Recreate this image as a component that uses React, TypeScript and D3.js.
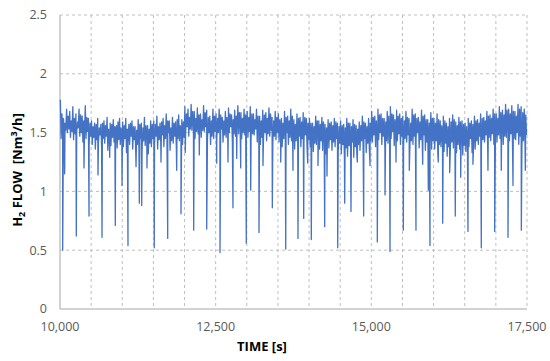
import React from 'react';
import * as d3 from 'd3';

// time axis (s) and flow axis (Nm3/h)
const xTicks = [10000, 12500, 15000, 17500];
const yTicks = [0, 0.5, 1, 1.5, 2, 2.5];
const binStart = 10000;
const binSize = 50;

// per-50 s bin, first half: upper and lower edge of the noisy band
const bandHigh = [
  1.78, 1.62, 1.7, 1.68, 1.72, 1.66, 1.7, 1.64, 1.73, 1.62,
  1.6, 1.58, 1.62, 1.57, 1.6, 1.63, 1.58, 1.61, 1.56, 1.62,
  1.59, 1.62, 1.57, 1.6, 1.55, 1.61, 1.58, 1.63, 1.56, 1.6,
  1.6, 1.64, 1.58, 1.62, 1.66, 1.6, 1.63, 1.59, 1.65, 1.61,
  1.72, 1.7, 1.74, 1.68, 1.71, 1.66, 1.73, 1.69, 1.64, 1.7,
  1.66, 1.7, 1.63, 1.68, 1.71, 1.65, 1.69, 1.73, 1.67, 1.7,
  1.68, 1.72, 1.66, 1.7, 1.64, 1.69, 1.67, 1.71, 1.63, 1.68,
  1.66, 1.62, 1.68, 1.64, 1.7, 1.61, 1.66, 1.63, 1.67, 1.62,
  1.62, 1.58, 1.64, 1.6, 1.63, 1.57, 1.61, 1.59, 1.62, 1.58,
  1.6, 1.57, 1.62, 1.58, 1.61, 1.56, 1.59, 1.64, 1.58, 1.62,
  1.68, 1.64, 1.7, 1.66, 1.62, 1.68, 1.72, 1.65, 1.69, 1.66,
  1.64, 1.68, 1.62, 1.7, 1.66, 1.63, 1.69, 1.65, 1.61, 1.67,
  1.62, 1.66, 1.6, 1.64, 1.58, 1.62, 1.65, 1.59, 1.63, 1.6,
  1.58, 1.62, 1.6, 1.64, 1.61, 1.66, 1.63, 1.68, 1.65, 1.7,
  1.66, 1.72, 1.69, 1.74, 1.7, 1.73, 1.68, 1.74, 1.72, 1.7,
];
const bandLow = [
  1.45, 1.48, 1.5, 1.46, 1.44, 1.5, 1.47, 1.42, 1.45, 1.4,
  1.4, 1.36, 1.42, 1.38, 1.41, 1.35, 1.39, 1.42, 1.37, 1.4,
  1.38, 1.33, 1.4, 1.36, 1.3, 1.37, 1.34, 1.39, 1.32, 1.38,
  1.4, 1.36, 1.42, 1.38, 1.44, 1.35, 1.41, 1.38, 1.43, 1.4,
  1.5, 1.47, 1.52, 1.45, 1.49, 1.46, 1.51, 1.44, 1.4, 1.45,
  1.44, 1.48, 1.42, 1.46, 1.5, 1.43, 1.47, 1.49, 1.45, 1.48,
  1.46, 1.43, 1.48, 1.42, 1.4, 1.45, 1.43, 1.47, 1.41, 1.44,
  1.42, 1.38, 1.44, 1.4, 1.43, 1.36, 1.41, 1.38, 1.42, 1.37,
  1.38, 1.34, 1.4, 1.36, 1.35, 1.32, 1.37, 1.35, 1.38, 1.33,
  1.32, 1.28, 1.3, 1.34, 1.29, 1.31, 1.35, 1.38, 1.33, 1.36,
  1.42, 1.38, 1.44, 1.4, 1.36, 1.41, 1.45, 1.39, 1.43, 1.4,
  1.38, 1.42, 1.36, 1.4, 1.44, 1.37, 1.41, 1.35, 1.39, 1.36,
  1.36, 1.32, 1.38, 1.34, 1.3, 1.35, 1.37, 1.33, 1.36, 1.31,
  1.34, 1.38, 1.33, 1.36, 1.4, 1.37, 1.42, 1.39, 1.43, 1.4,
  1.42, 1.45, 1.4, 1.46, 1.43, 1.38, 1.44, 1.4, 1.36, 1.42,
];
// second half of each bin: smaller swing inside the band
const midHigh = [
  1.66, 1.58, 1.64, 1.6, 1.62, 1.59, 1.65, 1.6, 1.63, 1.58,
  1.55, 1.57, 1.54, 1.58, 1.56, 1.53, 1.57, 1.55, 1.59, 1.54,
  1.56, 1.53, 1.58, 1.55, 1.52, 1.57, 1.54, 1.56, 1.53, 1.57,
  1.57, 1.55, 1.59, 1.56, 1.6, 1.54, 1.58, 1.61, 1.56, 1.59,
  1.66, 1.63, 1.68, 1.62, 1.65, 1.61, 1.67, 1.63, 1.6, 1.64,
  1.62, 1.65, 1.6, 1.63, 1.66, 1.61, 1.64, 1.67, 1.62, 1.65,
  1.63, 1.66, 1.61, 1.64, 1.6, 1.65, 1.62, 1.66, 1.6, 1.63,
  1.61, 1.58, 1.63, 1.6, 1.64, 1.57, 1.62, 1.59, 1.63, 1.58,
  1.58, 1.55, 1.6, 1.57, 1.59, 1.54, 1.58, 1.56, 1.59, 1.55,
  1.56, 1.54, 1.58, 1.55, 1.57, 1.53, 1.56, 1.59, 1.55, 1.58,
  1.63, 1.6, 1.65, 1.62, 1.59, 1.64, 1.66, 1.61, 1.64, 1.62,
  1.6, 1.63, 1.58, 1.65, 1.62, 1.59, 1.64, 1.61, 1.58, 1.62,
  1.58, 1.61, 1.56, 1.6, 1.55, 1.59, 1.61, 1.56, 1.59, 1.57,
  1.55, 1.58, 1.57, 1.6, 1.58, 1.62, 1.6, 1.64, 1.62, 1.66,
  1.62, 1.67, 1.65, 1.69, 1.66, 1.68, 1.64, 1.7, 1.67, 1.65,
];
const midLow = [
  1.5, 1.52, 1.53, 1.51, 1.49, 1.54, 1.5, 1.48, 1.51, 1.47,
  1.46, 1.44, 1.48, 1.45, 1.47, 1.43, 1.46, 1.48, 1.44, 1.46,
  1.45, 1.42, 1.47, 1.44, 1.4, 1.45, 1.43, 1.46, 1.41, 1.45,
  1.47, 1.44, 1.48, 1.45, 1.5, 1.43, 1.47, 1.45, 1.49, 1.46,
  1.55, 1.53, 1.56, 1.51, 1.54, 1.52, 1.55, 1.5, 1.47, 1.51,
  1.5, 1.53, 1.48, 1.52, 1.55, 1.49, 1.52, 1.54, 1.5, 1.53,
  1.51, 1.49, 1.53, 1.48, 1.46, 1.5, 1.49, 1.52, 1.47, 1.5,
  1.48, 1.45, 1.5, 1.46, 1.49, 1.43, 1.47, 1.45, 1.48, 1.44,
  1.45, 1.41, 1.46, 1.43, 1.42, 1.4, 1.44, 1.42, 1.45, 1.41,
  1.4, 1.37, 1.39, 1.42, 1.38, 1.4, 1.43, 1.45, 1.41, 1.43,
  1.48, 1.45, 1.5, 1.47, 1.43, 1.48, 1.51, 1.46, 1.49, 1.47,
  1.45, 1.48, 1.43, 1.47, 1.5, 1.44, 1.48, 1.42, 1.46, 1.43,
  1.43, 1.4, 1.45, 1.41, 1.38, 1.42, 1.44, 1.4, 1.43, 1.39,
  1.41, 1.45, 1.4, 1.43, 1.47, 1.44, 1.48, 1.46, 1.49, 1.47,
  1.48, 1.51, 1.47, 1.52, 1.49, 1.45, 1.5, 1.47, 1.43, 1.48,
];

// downward spikes: time (s) and lowest flow
const dipTime = [
  10043, 10075, 10262, 10385, 10466, 10610, 10675, 10798, 10888, 10996,
  11092, 11221, 11274, 11312, 11397, 11514, 11622, 11730, 11874, 11943,
  12012, 12147, 12237, 12356, 12517, 12570, 12698, 12778, 12838, 12902,
  12992, 13063, 13196, 13260, 13410, 13545, 13625, 13742, 13822, 13914,
  13978, 14036, 14143, 14251, 14288, 14460, 14572, 14673, 14775, 14877,
  14979, 15096, 15220, 15300, 15396, 15514, 15610, 15717, 15825, 15915,
  15942, 16075, 16146, 16258, 16348, 16435, 16552, 16632, 16766, 16873,
  16981, 17087, 17195, 17275, 17409, 17473,
];
const dipValue = [
  0.5, 1.15, 0.62, 1.2, 0.79, 1.14, 0.61, 1.29, 0.71, 1.05,
  0.54, 1.21, 0.9, 0.88, 1.2, 0.52, 1.25, 0.6, 1.18, 0.81,
  1.33, 0.67, 1.31, 0.68, 1.24, 0.48, 1.25, 0.86, 1.28, 1.2,
  0.56, 1.01, 0.65, 1.22, 0.86, 1.25, 0.51, 1.18, 0.6, 0.77,
  1.24, 0.59, 1.22, 0.7, 1.13, 0.52, 0.9, 0.83, 1.25, 0.79,
  1.22, 0.57, 0.97, 0.49, 1.25, 0.67, 1.18, 0.67, 1.23, 1.01,
  0.54, 1.25, 0.73, 1.16, 0.79, 1.12, 0.66, 1.23, 0.52, 1.18,
  0.66, 1.18, 0.61, 1.05, 0.67, 1.18,
];

const W = 550;
const H = 361;
const m = { left: 60, right: 527, top: 15, bottom: 309 };
const font = '"Open Sans", sans-serif';

export default function App() {
  const x = d3.scaleLinear().domain([10000, 17500]).range([m.left, m.right]);
  const y = d3.scaleLinear().domain([0, 2.5]).range([m.bottom, m.top]);

  const pts: [number, number][] = [];
  bandHigh.forEach((v, i) => {
    const t0 = binStart + i * binSize;
    pts.push([t0 + 6, v]);
    pts.push([t0 + 18, bandLow[i]]);
    pts.push([t0 + 31, midHigh[i]]);
    pts.push([t0 + 43, midLow[i]]);
  });
  dipTime.forEach((t, i) => pts.push([t, dipValue[i]]));
  pts.sort((a, b) => a[0] - b[0]);

  const line = d3
    .line<[number, number]>()
    .x((d) => x(d[0]))
    .y((d) => y(d[1]));

  const vGrid = d3.range(10500, 17501, 500);
  const fmt = d3.format(',');

  return (
    <svg width={W} height={H} style={{ position: 'absolute', left: 0, top: 0, background: '#fff' }}>
      {yTicks.slice(1).map((v) => (
        <line key={'h' + v} x1={m.left} x2={m.right} y1={y(v)} y2={y(v)}
          stroke="#bfbfbf" strokeWidth={1} strokeDasharray="3,3" />
      ))}
      {vGrid.map((t) => (
        <line key={'v' + t} x1={x(t)} x2={x(t)} y1={m.top} y2={m.bottom}
          stroke="#bfbfbf" strokeWidth={1} strokeDasharray="3,3" />
      ))}
      <line x1={m.left} x2={m.left} y1={m.top} y2={m.bottom} stroke="#a6a6a6" />
      <line x1={m.left} x2={m.right} y1={m.bottom} y2={m.bottom} stroke="#a6a6a6" />

      <path d={line(pts) || ''} fill="none" stroke="#4472c4" strokeWidth={1.3} strokeLinejoin="round" />

      {yTicks.map((v) => (
        <text key={'yl' + v} x={47} y={y(v)} dy="0.35em" textAnchor="end"
          fontFamily={font} fontSize={12.5} fill="#595959">{v}</text>
      ))}
      {xTicks.map((t) => (
        <text key={'xl' + t} x={x(t)} y={331} textAnchor="middle"
          fontFamily={font} fontSize={12.5} fill="#595959">{fmt(t)}</text>
      ))}
      <text x={262} y={351} textAnchor="middle" fontFamily={font} fontSize={13}
        fontWeight="bold" fill="#000">TIME [s]</text>
      <text transform="translate(22,170) rotate(-90)" textAnchor="middle" fontFamily={font}
        fontSize={13} fontWeight="bold" fill="#000">
        H<tspan fontSize={9} dy={3}>2</tspan><tspan dy={-3}>{' FLOW\u00a0\u00a0[Nm'}</tspan>
        <tspan fontSize={9} dy={-5}>3</tspan><tspan dy={5}>/h]</tspan>
      </text>
    </svg>
  );
}
